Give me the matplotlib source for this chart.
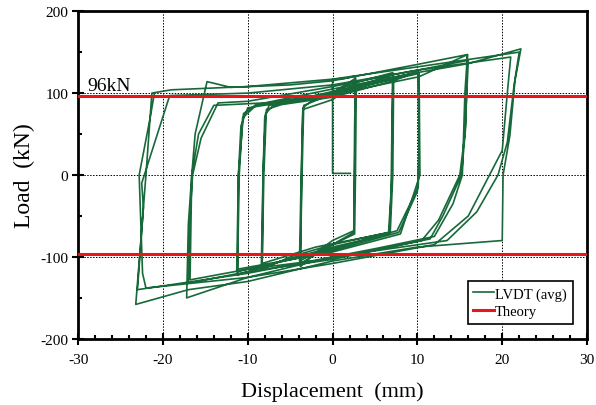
import numpy as np
import matplotlib
matplotlib.use("Agg")
import matplotlib.pyplot as plt
from matplotlib.ticker import MultipleLocator

plt.rcParams['font.family'] = ['Liberation Serif', 'DejaVu Serif']
plt.rcParams['axes.unicode_minus'] = False

# displacement (mm) / load (kN), cycle by cycle
start_x = [2.1, 0.0, 0.0, 1.5, 2.7]
start_y = [2, 2, 117, 118, 121]

# level 1 (about +2.7 / -3.8 mm)
c1_x = [2.6, 2.5, 0.0, -2.0, -3.8, -3.7, -3.6, -3.5, -2.5, 0.0, 2.7,
        2.6, 2.5, 0.0, -3.8, -3.6, -3.4, -1.0, 2.8,
        2.7, 2.6, -1.0, -3.9, -3.7, -3.5, 0.0, 2.8]
c1_y = [60, -68, -80, -95, -112, -40, 40, 82, 90, 100, 118,
        0, -70, -85, -108, 0, 85, 95, 115,
        0, -72, -90, -105, 0, 80, 92, 113]

# level 2 (about +7.1 / -8.3 mm)
c2_x = [7.1, 7.0, 6.9, 6.6, 0.0, -5.0, -8.3, -8.2, -8.0, -7.5, 0.0, 7.1,
        7.0, 6.7, 0.0, -8.4, -8.2, -7.9, -7.0, 0.0, 7.2,
        7.1, 6.8, -2.0, -8.3, -8.1, -7.8, -6.0, 0.0, 7.2]
c2_y = [125, 60, -20, -70, -85, -100, -115, 0, 70, 85, 100, 122,
        0, -72, -88, -112, 0, 75, 85, 98, 118,
        0, -70, -88, -108, 0, 80, 86, 95, 115]

# level 3 (about +10.1 / -11.2 mm)
c3_x = [10.1, 10.2, 10.1, 7.6, 0.0, -6.0, -11.2, -11.1, -10.8, -10.0, -5.0, 0.0, 10.1,
        10.2, 10.0, 7.8, 0.0, -11.3, -11.1, -10.5, -9.0, 0.0, 10.2,
        10.3, 8.0, 0.0, -11.2, -11.0, -10.6, -9.0, 0.0, 10.2]
c3_y = [127, 40, -15, -68, -90, -105, -122, 0, 60, 82, 90, 102, 126,
        30, -20, -70, -92, -118, 0, 75, 86, 100, 124,
        0, -72, -94, -115, 0, 70, 85, 98, 120]

# level 4 (about +15.9 / -17 mm)
c4_x = [15.9, 15.6, 15.3, 14.2, 12.0, 5.0, 0.0, -10.0, -17.2, -17.0, -16.6, -16.2, -14.8,
        -12.0, -5.0, 0.0, 10.0, 15.9,
        15.7, 15.2, 13.0, 11.5, 0.0, -10.0, -17.0, -16.8, -16.5, -15.5, -13.5, -10.0,
        0.0, 10.0, 16.0,
        15.6, 15.0, 12.5, 10.5, 0.0, -10.0, -16.8, -16.6, -15.8, -14.0, -8.0, 0.0,
        10.0, 16.0]
c4_y = [147, 100, 0, -35, -75, -90, -100, -125, -150, -60, 0, 50, 114,
        107, 110, 115, 135, 147,
        60, 0, -50, -78, -103, -118, -132, -50, 0, 45, 88, 90,
        108, 128, 140,
        50, 0, -55, -80, -102, -115, -128, 0, 50, 85, 88, 105,
        125, 136]

# level 5 (about +22 / -23 mm)
c5_x = [22.2, 21.5, 20.9, 20.1, 20.0, 10.0, 0.0, -10.0, -17.0, -23.2, -22.6, -22.0, -21.3,
        -19.0, -10.0, 0.0, 10.0, 22.0,
        21.4, 20.6, 19.5, 17.0, 13.5, 0.0, -10.0, -23.0, -22.3, -22.5, -19.2, -10.0,
        0.0, 10.0, 21.0,
        20.6, 20.0, 18.5, 16.0, 12.0, 0.0, -10.0, -22.0, -22.4, -22.8, -21.5, -21.0]
c5_y = [154, 115, 48, 0, -80, -88, -105, -130, -140, -158, -80, 0, 100,
        104, 108, 117, 132, 150,
        110, 40, 0, -45, -80, -100, -120, -140, -40, -10, 97, 100,
        110, 128, 144,
        100, 30, 0, -50, -85, -108, -125, -138, -120, 0, 70, 100]

theory = 96

disp = start_x + c1_x + c2_x + c3_x + c4_x + c5_x
load = start_y + c1_y + c2_y + c3_y + c4_y + c5_y

fig = plt.figure(figsize=(5.96, 4.06), dpi=100)
ax = fig.add_axes([0.131, 0.163, 0.854, 0.807])

ax.plot(disp, load, color='#17693a', lw=1.2, label='LVDT (avg)', zorder=2)
ax.axhline(theory, color='#e8151b', lw=2.2, label='Theory', zorder=3)
ax.axhline(-theory, color='#e8151b', lw=2.2, zorder=3)

ax.set_xlim(-30, 30)
ax.set_ylim(-200, 200)
ax.xaxis.set_major_locator(MultipleLocator(10))
ax.xaxis.set_minor_locator(MultipleLocator(2))
ax.yaxis.set_major_locator(MultipleLocator(100))
ax.yaxis.set_minor_locator(MultipleLocator(50))
ax.tick_params(which='major', direction='inout', length=8, width=1.5, labelsize=11, pad=6)
ax.tick_params(which='minor', direction='in', length=3, width=1.5)
ax.tick_params(axis='y', which='major', pad=3)
for s in ax.spines.values():
    s.set_linewidth(2)

ax.grid(True, which='major', color='black', linestyle=(0, (1.5, 1.5)), lw=0.7)
ax.set_axisbelow(True)

ax.set_xlabel('Displacement  (mm)', fontsize=16, labelpad=11)
ax.set_ylabel('Load  (kN)', fontsize=17, labelpad=4)
ax.text(-28.9, 104, '96kN', fontsize=14)

leg = ax.legend(loc='lower right', bbox_to_anchor=(0.972, 0.045), fontsize=10.5,
                frameon=True, fancybox=False, edgecolor='black', framealpha=1,
                handlelength=1.4, handletextpad=0.1, borderpad=0.4, labelspacing=0.3,
                borderaxespad=0)
leg.get_frame().set_linewidth(1.2)

fig.savefig('out.png', dpi=100)
